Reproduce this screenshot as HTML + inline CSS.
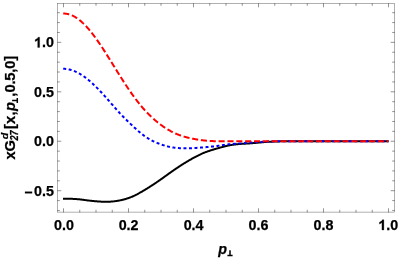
<!DOCTYPE html>
<html><head><meta charset="utf-8"><style>
html,body{margin:0;padding:0;background:#fff;}
body{width:398px;height:258px;overflow:hidden;}
svg{display:block;will-change:transform;font-family:"Liberation Sans",sans-serif;font-weight:bold;}
</style></head><body>
<svg width="398" height="258" viewBox="0 0 398 258">
<rect width="398" height="258" fill="#fff"/>
<g fill="none" stroke-linejoin="round">
<path d="M63.00 198.84 L63.50 198.84 L64.00 198.84 L64.50 198.84 L65.00 198.83 L65.50 198.83 L66.00 198.83 L66.50 198.82 L67.00 198.82 L67.50 198.82 L68.00 198.82 L68.50 198.81 L69.00 198.81 L69.50 198.81 L70.00 198.82 L70.50 198.82 L71.00 198.83 L71.50 198.84 L72.00 198.85 L72.50 198.86 L73.00 198.88 L73.50 198.90 L74.00 198.93 L74.50 198.95 L75.00 198.98 L75.50 199.01 L76.00 199.05 L76.50 199.09 L77.00 199.13 L77.50 199.17 L78.00 199.21 L78.50 199.26 L79.00 199.31 L79.50 199.36 L80.00 199.42 L80.50 199.48 L81.00 199.54 L81.50 199.60 L82.00 199.66 L82.50 199.73 L83.00 199.79 L83.50 199.86 L84.00 199.93 L84.50 199.99 L85.00 200.06 L85.50 200.13 L86.00 200.19 L86.50 200.26 L87.00 200.32 L87.50 200.39 L88.00 200.45 L88.50 200.51 L89.00 200.57 L89.50 200.63 L90.00 200.68 L90.50 200.74 L91.00 200.79 L91.50 200.84 L92.00 200.89 L92.50 200.94 L93.00 200.99 L93.50 201.04 L94.00 201.08 L94.50 201.13 L95.00 201.17 L95.50 201.22 L96.00 201.26 L96.50 201.30 L97.00 201.35 L97.50 201.39 L98.00 201.43 L98.50 201.47 L99.00 201.51 L99.50 201.54 L100.00 201.58 L100.50 201.61 L101.00 201.64 L101.50 201.67 L102.00 201.70 L102.50 201.72 L103.00 201.75 L103.50 201.76 L104.00 201.78 L104.50 201.79 L105.00 201.80 L105.50 201.81 L106.00 201.81 L106.50 201.81 L107.00 201.80 L107.50 201.79 L108.00 201.78 L108.50 201.76 L109.00 201.74 L109.50 201.72 L110.00 201.69 L110.50 201.65 L111.00 201.62 L111.50 201.58 L112.00 201.54 L112.50 201.49 L113.00 201.44 L113.50 201.38 L114.00 201.33 L114.50 201.26 L115.00 201.20 L115.50 201.13 L116.00 201.06 L116.50 200.99 L117.00 200.91 L117.50 200.83 L118.00 200.74 L118.50 200.65 L119.00 200.56 L119.50 200.46 L120.00 200.37 L120.50 200.26 L121.00 200.16 L121.50 200.05 L122.00 199.94 L122.50 199.82 L123.00 199.70 L123.50 199.57 L124.00 199.44 L124.50 199.31 L125.00 199.17 L125.50 199.03 L126.00 198.88 L126.50 198.73 L127.00 198.57 L127.50 198.41 L128.00 198.24 L128.50 198.07 L129.00 197.90 L129.50 197.71 L130.00 197.52 L130.50 197.33 L131.00 197.13 L131.50 196.92 L132.00 196.71 L132.50 196.50 L133.00 196.27 L133.50 196.05 L134.00 195.82 L134.50 195.58 L135.00 195.34 L135.50 195.09 L136.00 194.84 L136.50 194.58 L137.00 194.33 L137.50 194.06 L138.00 193.80 L138.50 193.53 L139.00 193.25 L139.50 192.98 L140.00 192.70 L140.50 192.41 L141.00 192.13 L141.50 191.84 L142.00 191.55 L142.50 191.26 L143.00 190.96 L143.50 190.67 L144.00 190.37 L144.50 190.07 L145.00 189.77 L145.50 189.47 L146.00 189.16 L146.50 188.86 L147.00 188.55 L147.50 188.24 L148.00 187.93 L148.50 187.61 L149.00 187.30 L149.50 186.98 L150.00 186.67 L150.50 186.35 L151.00 186.03 L151.50 185.71 L152.00 185.38 L152.50 185.06 L153.00 184.73 L153.50 184.40 L154.00 184.07 L154.50 183.74 L155.00 183.41 L155.50 183.07 L156.00 182.73 L156.50 182.40 L157.00 182.05 L157.50 181.71 L158.00 181.37 L158.50 181.02 L159.00 180.68 L159.50 180.33 L160.00 179.98 L160.50 179.63 L161.00 179.28 L161.50 178.92 L162.00 178.57 L162.50 178.21 L163.00 177.85 L163.50 177.49 L164.00 177.13 L164.50 176.77 L165.00 176.41 L165.50 176.05 L166.00 175.69 L166.50 175.33 L167.00 174.97 L167.50 174.61 L168.00 174.25 L168.50 173.89 L169.00 173.53 L169.50 173.18 L170.00 172.82 L170.50 172.46 L171.00 172.11 L171.50 171.76 L172.00 171.41 L172.50 171.06 L173.00 170.71 L173.50 170.36 L174.00 170.01 L174.50 169.67 L175.00 169.33 L175.50 168.98 L176.00 168.64 L176.50 168.31 L177.00 167.97 L177.50 167.64 L178.00 167.30 L178.50 166.97 L179.00 166.64 L179.50 166.32 L180.00 165.99 L180.50 165.67 L181.00 165.35 L181.50 165.03 L182.00 164.71 L182.50 164.39 L183.00 164.08 L183.50 163.77 L184.00 163.46 L184.50 163.15 L185.00 162.85 L185.50 162.54 L186.00 162.24 L186.50 161.94 L187.00 161.64 L187.50 161.34 L188.00 161.05 L188.50 160.75 L189.00 160.46 L189.50 160.17 L190.00 159.88 L190.50 159.59 L191.00 159.31 L191.50 159.02 L192.00 158.74 L192.50 158.46 L193.00 158.18 L193.50 157.90 L194.00 157.63 L194.50 157.36 L195.00 157.09 L195.50 156.82 L196.00 156.56 L196.50 156.29 L197.00 156.04 L197.50 155.78 L198.00 155.53 L198.50 155.28 L199.00 155.03 L199.50 154.79 L200.00 154.55 L200.50 154.32 L201.00 154.08 L201.50 153.86 L202.00 153.63 L202.50 153.41 L203.00 153.20 L203.50 152.99 L204.00 152.78 L204.50 152.58 L205.00 152.38 L205.50 152.19 L206.00 152.00 L206.50 151.81 L207.00 151.63 L207.50 151.45 L208.00 151.27 L208.50 151.10 L209.00 150.93 L209.50 150.77 L210.00 150.60 L210.50 150.44 L211.00 150.28 L211.50 150.13 L212.00 149.97 L212.50 149.82 L213.00 149.67 L213.50 149.52 L214.00 149.37 L214.50 149.22 L215.00 149.08 L215.50 148.93 L216.00 148.79 L216.50 148.65 L217.00 148.50 L217.50 148.36 L218.00 148.22 L218.50 148.08 L219.00 147.94 L219.50 147.79 L220.00 147.65 L220.50 147.51 L221.00 147.37 L221.50 147.23 L222.00 147.10 L222.50 146.96 L223.00 146.83 L223.50 146.69 L224.00 146.56 L224.50 146.43 L225.00 146.31 L225.50 146.18 L226.00 146.06 L226.50 145.94 L227.00 145.83 L227.50 145.72 L228.00 145.61 L228.50 145.50 L229.00 145.40 L229.50 145.30 L230.00 145.21 L230.50 145.12 L231.00 145.03 L231.50 144.95 L232.00 144.87 L232.50 144.79 L233.00 144.72 L233.50 144.65 L234.00 144.58 L234.50 144.52 L235.00 144.46 L235.50 144.40 L236.00 144.34 L236.50 144.29 L237.00 144.24 L237.50 144.19 L238.00 144.15 L238.50 144.10 L239.00 144.06 L239.50 144.02 L240.00 143.98 L240.50 143.94 L241.00 143.91 L241.50 143.87 L242.00 143.84 L242.50 143.81 L243.00 143.78 L243.50 143.75 L244.00 143.72 L244.50 143.69 L245.00 143.66 L245.50 143.63 L246.00 143.60 L246.50 143.57 L247.00 143.54 L247.50 143.51 L248.00 143.48 L248.50 143.45 L249.00 143.42 L249.50 143.39 L250.00 143.35 L250.50 143.31 L251.00 143.28 L251.50 143.24 L252.00 143.20 L252.50 143.15 L253.00 143.11 L253.50 143.07 L254.00 143.02 L254.50 142.98 L255.00 142.93 L255.50 142.89 L256.00 142.84 L256.50 142.80 L257.00 142.75 L257.50 142.70 L258.00 142.65 L258.50 142.61 L259.00 142.56 L259.50 142.51 L260.00 142.47 L260.50 142.42 L261.00 142.38 L261.50 142.33 L262.00 142.29 L262.50 142.24 L263.00 142.20 L263.50 142.16 L264.00 142.12 L264.50 142.08 L265.00 142.04 L265.50 142.01 L266.00 141.97 L266.50 141.94 L267.00 141.90 L267.50 141.87 L268.00 141.84 L268.50 141.81 L269.00 141.78 L269.50 141.75 L270.00 141.73 L270.50 141.70 L271.00 141.68 L271.50 141.65 L272.00 141.63 L272.50 141.61 L273.00 141.59 L273.50 141.57 L274.00 141.55 L274.50 141.53 L275.00 141.51 L275.50 141.49 L276.00 141.48 L276.50 141.46 L277.00 141.45 L277.50 141.43 L278.00 141.42 L278.50 141.40 L279.00 141.39 L279.50 141.38 L280.00 141.37 L280.50 141.36 L281.00 141.35 L281.50 141.34 L282.00 141.33 L282.50 141.32 L283.00 141.32 L283.50 141.31 L284.00 141.30 L284.50 141.30 L285.00 141.29 L285.50 141.28 L286.00 141.28 L286.50 141.28 L287.00 141.27 L287.50 141.27 L288.00 141.26 L288.50 141.26 L289.00 141.26 L289.50 141.26 L290.00 141.25 L290.50 141.25 L291.00 141.25 L291.50 141.25 L292.00 141.25 L292.50 141.25 L293.00 141.25 L293.50 141.25 L294.00 141.25 L294.50 141.25 L295.00 141.25 L295.50 141.25 L296.00 141.25 L296.50 141.25 L297.00 141.25 L297.50 141.25 L298.00 141.25 L298.50 141.25 L299.00 141.25 L299.50 141.25 L300.00 141.25 L300.50 141.25 L301.00 141.25 L301.50 141.25 L302.00 141.25 L302.50 141.25 L303.00 141.25 L303.50 141.25 L304.00 141.25 L304.50 141.25 L305.00 141.25 L305.50 141.25 L306.00 141.25 L306.50 141.25 L307.00 141.25 L307.50 141.25 L308.00 141.25 L308.50 141.26 L309.00 141.26 L309.50 141.26 L310.00 141.26 L310.50 141.26 L311.00 141.26 L311.50 141.26 L312.00 141.26 L312.50 141.26 L313.00 141.26 L313.50 141.26 L314.00 141.26 L314.50 141.26 L315.00 141.26 L315.50 141.25 L316.00 141.25 L316.50 141.25 L317.00 141.25 L317.50 141.25 L318.00 141.25 L318.50 141.25 L319.00 141.25 L319.50 141.25 L320.00 141.25 L320.50 141.25 L321.00 141.25 L321.50 141.25 L322.00 141.25 L322.50 141.25 L323.00 141.25 L323.50 141.25 L324.00 141.25 L324.50 141.25 L325.00 141.25 L325.50 141.25 L326.00 141.25 L326.50 141.25 L327.00 141.25 L327.50 141.25 L328.00 141.25 L328.50 141.25 L329.00 141.25 L329.50 141.25 L330.00 141.25 L330.50 141.25 L331.00 141.25 L331.50 141.25 L332.00 141.25 L332.50 141.25 L333.00 141.25 L333.50 141.25 L334.00 141.25 L334.50 141.25 L335.00 141.25 L335.50 141.25 L336.00 141.25 L336.50 141.25 L337.00 141.25 L337.50 141.25 L338.00 141.25 L338.50 141.25 L339.00 141.25 L339.50 141.25 L340.00 141.25 L340.50 141.25 L341.00 141.25 L341.50 141.25 L342.00 141.25 L342.50 141.25 L343.00 141.25 L343.50 141.25 L344.00 141.25 L344.50 141.25 L345.00 141.25 L345.50 141.25 L346.00 141.25 L346.50 141.25 L347.00 141.25 L347.50 141.25 L348.00 141.25 L348.50 141.25 L349.00 141.25 L349.50 141.25 L350.00 141.25 L350.50 141.25 L351.00 141.25 L351.50 141.25 L352.00 141.25 L352.50 141.25 L353.00 141.25 L353.50 141.25 L354.00 141.25 L354.50 141.25 L355.00 141.25 L355.50 141.25 L356.00 141.25 L356.50 141.25 L357.00 141.25 L357.50 141.25 L358.00 141.25 L358.50 141.25 L359.00 141.25 L359.50 141.25 L360.00 141.25 L360.50 141.25 L361.00 141.25 L361.50 141.25 L362.00 141.25 L362.50 141.25 L363.00 141.25 L363.50 141.25 L364.00 141.25 L364.50 141.25 L365.00 141.25 L365.50 141.25 L366.00 141.25 L366.50 141.25 L367.00 141.25 L367.50 141.25 L368.00 141.25 L368.50 141.25 L369.00 141.25 L369.50 141.25 L370.00 141.25 L370.50 141.25 L371.00 141.25 L371.50 141.25 L372.00 141.25 L372.50 141.25 L373.00 141.25 L373.50 141.25 L374.00 141.25 L374.50 141.25 L375.00 141.25 L375.50 141.25 L376.00 141.25 L376.50 141.25 L377.00 141.25 L377.50 141.25 L378.00 141.25 L378.50 141.25 L379.00 141.25 L379.50 141.25 L380.00 141.25 L380.50 141.25 L381.00 141.25 L381.50 141.25 L382.00 141.25 L382.50 141.25 L383.00 141.25 L383.50 141.25 L384.00 141.25 L384.50 141.25 L385.00 141.25 L385.50 141.25 L386.00 141.25 L386.50 141.25 L387.00 141.25 L387.50 141.25 L388.00 141.25 L388.50 141.25" stroke="#000" stroke-width="2.0"/>
<path d="M63.20 68.79 L63.50 68.79 L64.00 68.80 L64.50 68.81 L65.00 68.84 L65.50 68.88 L66.00 68.93 L66.50 68.98 L67.00 69.05 L67.50 69.13 L68.00 69.22 L68.50 69.32 L69.00 69.42 L69.50 69.54 L70.00 69.67 L70.50 69.80 L71.00 69.95 L71.50 70.10 L72.00 70.26 L72.50 70.43 L73.00 70.61 L73.50 70.79 L74.00 70.99 L74.50 71.19 L75.00 71.40 L75.50 71.62 L76.00 71.85 L76.50 72.08 L77.00 72.33 L77.50 72.58 L78.00 72.84 L78.50 73.10 L79.00 73.38 L79.50 73.66 L80.00 73.95 L80.50 74.25 L81.00 74.55 L81.50 74.87 L82.00 75.19 L82.50 75.52 L83.00 75.85 L83.50 76.20 L84.00 76.55 L84.50 76.90 L85.00 77.27 L85.50 77.64 L86.00 78.02 L86.50 78.40 L87.00 78.80 L87.50 79.19 L88.00 79.60 L88.50 80.01 L89.00 80.43 L89.50 80.85 L90.00 81.29 L90.50 81.72 L91.00 82.16 L91.50 82.61 L92.00 83.07 L92.50 83.52 L93.00 83.99 L93.50 84.46 L94.00 84.93 L94.50 85.41 L95.00 85.89 L95.50 86.38 L96.00 86.87 L96.50 87.37 L97.00 87.87 L97.50 88.37 L98.00 88.88 L98.50 89.39 L99.00 89.90 L99.50 90.42 L100.00 90.94 L100.50 91.47 L101.00 92.00 L101.50 92.53 L102.00 93.07 L102.50 93.61 L103.00 94.15 L103.50 94.70 L104.00 95.25 L104.50 95.80 L105.00 96.36 L105.50 96.92 L106.00 97.48 L106.50 98.04 L107.00 98.61 L107.50 99.18 L108.00 99.75 L108.50 100.33 L109.00 100.90 L109.50 101.48 L110.00 102.06 L110.50 102.63 L111.00 103.21 L111.50 103.79 L112.00 104.37 L112.50 104.95 L113.00 105.52 L113.50 106.10 L114.00 106.67 L114.50 107.25 L115.00 107.82 L115.50 108.39 L116.00 108.95 L116.50 109.52 L117.00 110.08 L117.50 110.63 L118.00 111.19 L118.50 111.73 L119.00 112.28 L119.50 112.82 L120.00 113.36 L120.50 113.89 L121.00 114.42 L121.50 114.94 L122.00 115.46 L122.50 115.98 L123.00 116.49 L123.50 117.00 L124.00 117.51 L124.50 118.01 L125.00 118.51 L125.50 119.01 L126.00 119.51 L126.50 120.00 L127.00 120.49 L127.50 120.98 L128.00 121.47 L128.50 121.95 L129.00 122.43 L129.50 122.91 L130.00 123.39 L130.50 123.87 L131.00 124.35 L131.50 124.83 L132.00 125.30 L132.50 125.77 L133.00 126.25 L133.50 126.72 L134.00 127.18 L134.50 127.65 L135.00 128.11 L135.50 128.57 L136.00 129.02 L136.50 129.48 L137.00 129.92 L137.50 130.37 L138.00 130.81 L138.50 131.24 L139.00 131.67 L139.50 132.10 L140.00 132.52 L140.50 132.93 L141.00 133.34 L141.50 133.74 L142.00 134.14 L142.50 134.53 L143.00 134.91 L143.50 135.28 L144.00 135.65 L144.50 136.01 L145.00 136.36 L145.50 136.71 L146.00 137.04 L146.50 137.37 L147.00 137.70 L147.50 138.01 L148.00 138.32 L148.50 138.63 L149.00 138.92 L149.50 139.21 L150.00 139.50 L150.50 139.77 L151.00 140.05 L151.50 140.31 L152.00 140.57 L152.50 140.83 L153.00 141.08 L153.50 141.32 L154.00 141.56 L154.50 141.79 L155.00 142.02 L155.50 142.24 L156.00 142.46 L156.50 142.68 L157.00 142.89 L157.50 143.09 L158.00 143.29 L158.50 143.49 L159.00 143.68 L159.50 143.87 L160.00 144.06 L160.50 144.24 L161.00 144.42 L161.50 144.60 L162.00 144.77 L162.50 144.94 L163.00 145.10 L163.50 145.26 L164.00 145.42 L164.50 145.57 L165.00 145.72 L165.50 145.86 L166.00 146.00 L166.50 146.14 L167.00 146.27 L167.50 146.39 L168.00 146.52 L168.50 146.63 L169.00 146.75 L169.50 146.86 L170.00 146.96 L170.50 147.06 L171.00 147.15 L171.50 147.24 L172.00 147.33 L172.50 147.41 L173.00 147.49 L173.50 147.56 L174.00 147.63 L174.50 147.69 L175.00 147.75 L175.50 147.81 L176.00 147.86 L176.50 147.91 L177.00 147.96 L177.50 148.00 L178.00 148.04 L178.50 148.08 L179.00 148.11 L179.50 148.14 L180.00 148.17 L180.50 148.20 L181.00 148.22 L181.50 148.24 L182.00 148.26 L182.50 148.27 L183.00 148.29 L183.50 148.30 L184.00 148.30 L184.50 148.31 L185.00 148.31 L185.50 148.32 L186.00 148.32 L186.50 148.31 L187.00 148.31 L187.50 148.30 L188.00 148.29 L188.50 148.28 L189.00 148.27 L189.50 148.26 L190.00 148.24 L190.50 148.22 L191.00 148.20 L191.50 148.18 L192.00 148.16 L192.50 148.14 L193.00 148.11 L193.50 148.08 L194.00 148.06 L194.50 148.03 L195.00 148.00 L195.50 147.96 L196.00 147.93 L196.50 147.90 L197.00 147.86 L197.50 147.83 L198.00 147.79 L198.50 147.75 L199.00 147.71 L199.50 147.68 L200.00 147.64 L200.50 147.60 L201.00 147.55 L201.50 147.51 L202.00 147.47 L202.50 147.43 L203.00 147.39 L203.50 147.34 L204.00 147.30 L204.50 147.26 L205.00 147.21 L205.50 147.17 L206.00 147.13 L206.50 147.08 L207.00 147.04 L207.50 146.99 L208.00 146.94 L208.50 146.90 L209.00 146.85 L209.50 146.80 L210.00 146.75 L210.50 146.70 L211.00 146.65 L211.50 146.60 L212.00 146.55 L212.50 146.50 L213.00 146.44 L213.50 146.39 L214.00 146.33 L214.50 146.27 L215.00 146.21 L215.50 146.15 L216.00 146.09 L216.50 146.03 L217.00 145.96 L217.50 145.90 L218.00 145.83 L218.50 145.76 L219.00 145.69 L219.50 145.62 L220.00 145.54 L220.50 145.47 L221.00 145.40 L221.50 145.32 L222.00 145.25 L222.50 145.17 L223.00 145.10 L223.50 145.02 L224.00 144.95 L224.50 144.88 L225.00 144.80 L225.50 144.73 L226.00 144.66 L226.50 144.60 L227.00 144.53 L227.50 144.47 L228.00 144.41 L228.50 144.35 L229.00 144.29 L229.50 144.24 L230.00 144.19 L230.50 144.14 L231.00 144.09 L231.50 144.05 L232.00 144.01 L232.50 143.97 L233.00 143.93 L233.50 143.89 L234.00 143.85 L234.50 143.82 L235.00 143.79 L235.50 143.75 L236.00 143.72 L236.50 143.69 L237.00 143.65 L237.50 143.62 L238.00 143.59 L238.50 143.56 L239.00 143.52 L239.50 143.49 L240.00 143.45 L240.50 143.41 L241.00 143.37 L241.50 143.34 L242.00 143.29 L242.50 143.25 L243.00 143.21 L243.50 143.17 L244.00 143.13 L244.50 143.08 L245.00 143.04 L245.50 143.00 L246.00 142.95 L246.50 142.91 L247.00 142.86 L247.50 142.82 L248.00 142.78 L248.50 142.73 L249.00 142.69 L249.50 142.65 L250.00 142.61 L250.50 142.57 L251.00 142.53 L251.50 142.49 L252.00 142.45 L252.50 142.42 L253.00 142.38 L253.50 142.35 L254.00 142.31 L254.50 142.28 L255.00 142.25 L255.50 142.21 L256.00 142.18 L256.50 142.15 L257.00 142.12 L257.50 142.09 L258.00 142.06 L258.50 142.03 L259.00 142.01 L259.50 141.98 L260.00 141.95 L260.50 141.93 L261.00 141.90 L261.50 141.88 L262.00 141.85 L262.50 141.83 L263.00 141.81 L263.50 141.78 L264.00 141.76 L264.50 141.74 L265.00 141.72 L265.50 141.70 L266.00 141.68 L266.50 141.65 L267.00 141.64 L267.50 141.62 L268.00 141.60 L268.50 141.58 L269.00 141.56 L269.50 141.54 L270.00 141.53 L270.50 141.51 L271.00 141.49 L271.50 141.48 L272.00 141.46 L272.50 141.45 L273.00 141.44 L273.50 141.42 L274.00 141.41 L274.50 141.40 L275.00 141.38 L275.50 141.37 L276.00 141.36 L276.50 141.35 L277.00 141.34 L277.50 141.33 L278.00 141.32 L278.50 141.31 L279.00 141.31 L279.50 141.30 L280.00 141.29 L280.50 141.28 L281.00 141.28 L281.50 141.27 L282.00 141.27 L282.50 141.26 L283.00 141.26 L283.50 141.25 L284.00 141.25 L284.50 141.24 L285.00 141.24 L285.50 141.24 L286.00 141.24 L286.50 141.23 L287.00 141.23 L287.50 141.23 L288.00 141.23 L288.50 141.23 L289.00 141.23 L289.50 141.23 L290.00 141.23 L290.50 141.23 L291.00 141.23 L291.50 141.23 L292.00 141.23 L292.50 141.23 L293.00 141.23 L293.50 141.23 L294.00 141.23 L294.50 141.23 L295.00 141.24 L295.50 141.24 L296.00 141.24 L296.50 141.24 L297.00 141.24 L297.50 141.24 L298.00 141.24 L298.50 141.25 L299.00 141.25 L299.50 141.25 L300.00 141.25 L300.50 141.25 L301.00 141.25 L301.50 141.25 L302.00 141.25 L302.50 141.26 L303.00 141.26 L303.50 141.26 L304.00 141.26 L304.50 141.26 L305.00 141.26 L305.50 141.26 L306.00 141.26 L306.50 141.26 L307.00 141.26 L307.50 141.26 L308.00 141.26 L308.50 141.26 L309.00 141.26 L309.50 141.26 L310.00 141.26 L310.50 141.26 L311.00 141.26 L311.50 141.26 L312.00 141.26 L312.50 141.26 L313.00 141.26 L313.50 141.26 L314.00 141.26 L314.50 141.26 L315.00 141.26 L315.50 141.26 L316.00 141.26 L316.50 141.26 L317.00 141.26 L317.50 141.26 L318.00 141.26 L318.50 141.26 L319.00 141.26 L319.50 141.26 L320.00 141.26 L320.50 141.26 L321.00 141.26 L321.50 141.26 L322.00 141.26 L322.50 141.26 L323.00 141.26 L323.50 141.26 L324.00 141.26 L324.50 141.25 L325.00 141.25 L325.50 141.25 L326.00 141.25 L326.50 141.25 L327.00 141.25 L327.50 141.25 L328.00 141.25 L328.50 141.25 L329.00 141.25 L329.50 141.25 L330.00 141.25 L330.50 141.25 L331.00 141.25 L331.50 141.25 L332.00 141.25 L332.50 141.25 L333.00 141.25 L333.50 141.25 L334.00 141.25 L334.50 141.25 L335.00 141.25 L335.50 141.25 L336.00 141.25 L336.50 141.25 L337.00 141.25 L337.50 141.25 L338.00 141.25 L338.50 141.25 L339.00 141.25 L339.50 141.25 L340.00 141.25 L340.50 141.25 L341.00 141.25 L341.50 141.25 L342.00 141.25 L342.50 141.25 L343.00 141.25 L343.50 141.25 L344.00 141.25 L344.50 141.25 L345.00 141.25 L345.50 141.25 L346.00 141.25 L346.50 141.25 L347.00 141.25 L347.50 141.25 L348.00 141.25 L348.50 141.25 L349.00 141.25 L349.50 141.25 L350.00 141.25 L350.50 141.25 L351.00 141.25 L351.50 141.25 L352.00 141.25 L352.50 141.25 L353.00 141.25 L353.50 141.25 L354.00 141.25 L354.50 141.25 L355.00 141.25 L355.50 141.25 L356.00 141.25 L356.50 141.25 L357.00 141.25 L357.50 141.25 L358.00 141.25 L358.50 141.25 L359.00 141.25 L359.50 141.25 L360.00 141.25 L360.50 141.25 L361.00 141.25 L361.50 141.25 L362.00 141.25 L362.50 141.25 L363.00 141.25 L363.50 141.25 L364.00 141.25 L364.50 141.25 L365.00 141.25 L365.50 141.25 L366.00 141.25 L366.50 141.25 L367.00 141.25 L367.50 141.25 L368.00 141.25 L368.50 141.25 L369.00 141.25 L369.50 141.25 L370.00 141.25 L370.50 141.25 L371.00 141.25 L371.50 141.25 L372.00 141.25 L372.50 141.25 L373.00 141.25 L373.50 141.25 L374.00 141.25 L374.50 141.25 L375.00 141.25 L375.50 141.25 L376.00 141.25 L376.50 141.25 L377.00 141.25 L377.50 141.25 L378.00 141.25 L378.50 141.25 L379.00 141.25 L379.50 141.25 L380.00 141.25 L380.50 141.25 L381.00 141.25 L381.50 141.25 L382.00 141.25 L382.50 141.25 L383.00 141.25 L383.50 141.25 L384.00 141.25 L384.50 141.25 L385.00 141.25 L385.50 141.25 L386.00 141.25 L386.50 141.25 L387.00 141.25 L387.50 141.25 L388.00 141.25 L388.50 141.25" stroke="#0000ff" stroke-width="2.0" stroke-dasharray="3 2.52" stroke-dashoffset="0"/>
<path d="M63.20 13.55 L63.50 13.55 L64.00 13.56 L64.50 13.58 L65.00 13.61 L65.50 13.65 L66.00 13.71 L66.50 13.79 L67.00 13.87 L67.50 13.97 L68.00 14.08 L68.50 14.20 L69.00 14.34 L69.50 14.49 L70.00 14.65 L70.50 14.82 L71.00 15.01 L71.50 15.21 L72.00 15.42 L72.50 15.64 L73.00 15.88 L73.50 16.13 L74.00 16.39 L74.50 16.67 L75.00 16.95 L75.50 17.25 L76.00 17.56 L76.50 17.89 L77.00 18.22 L77.50 18.57 L78.00 18.92 L78.50 19.29 L79.00 19.67 L79.50 20.07 L80.00 20.47 L80.50 20.88 L81.00 21.31 L81.50 21.75 L82.00 22.20 L82.50 22.65 L83.00 23.12 L83.50 23.60 L84.00 24.09 L84.50 24.59 L85.00 25.10 L85.50 25.62 L86.00 26.15 L86.50 26.69 L87.00 27.24 L87.50 27.79 L88.00 28.36 L88.50 28.94 L89.00 29.52 L89.50 30.11 L90.00 30.71 L90.50 31.32 L91.00 31.94 L91.50 32.57 L92.00 33.20 L92.50 33.84 L93.00 34.49 L93.50 35.15 L94.00 35.81 L94.50 36.49 L95.00 37.16 L95.50 37.85 L96.00 38.54 L96.50 39.24 L97.00 39.94 L97.50 40.65 L98.00 41.37 L98.50 42.09 L99.00 42.82 L99.50 43.55 L100.00 44.29 L100.50 45.03 L101.00 45.78 L101.50 46.53 L102.00 47.29 L102.50 48.05 L103.00 48.82 L103.50 49.59 L104.00 50.36 L104.50 51.13 L105.00 51.91 L105.50 52.70 L106.00 53.48 L106.50 54.27 L107.00 55.06 L107.50 55.85 L108.00 56.64 L108.50 57.44 L109.00 58.24 L109.50 59.04 L110.00 59.84 L110.50 60.64 L111.00 61.44 L111.50 62.25 L112.00 63.05 L112.50 63.86 L113.00 64.67 L113.50 65.47 L114.00 66.28 L114.50 67.09 L115.00 67.89 L115.50 68.70 L116.00 69.51 L116.50 70.31 L117.00 71.11 L117.50 71.92 L118.00 72.72 L118.50 73.52 L119.00 74.32 L119.50 75.12 L120.00 75.91 L120.50 76.71 L121.00 77.50 L121.50 78.29 L122.00 79.08 L122.50 79.86 L123.00 80.64 L123.50 81.42 L124.00 82.20 L124.50 82.97 L125.00 83.74 L125.50 84.50 L126.00 85.27 L126.50 86.02 L127.00 86.78 L127.50 87.53 L128.00 88.27 L128.50 89.01 L129.00 89.75 L129.50 90.48 L130.00 91.21 L130.50 91.93 L131.00 92.65 L131.50 93.36 L132.00 94.07 L132.50 94.77 L133.00 95.46 L133.50 96.15 L134.00 96.84 L134.50 97.52 L135.00 98.19 L135.50 98.86 L136.00 99.52 L136.50 100.17 L137.00 100.82 L137.50 101.47 L138.00 102.11 L138.50 102.74 L139.00 103.36 L139.50 103.99 L140.00 104.60 L140.50 105.21 L141.00 105.81 L141.50 106.41 L142.00 106.99 L142.50 107.58 L143.00 108.16 L143.50 108.73 L144.00 109.29 L144.50 109.85 L145.00 110.40 L145.50 110.94 L146.00 111.48 L146.50 112.02 L147.00 112.54 L147.50 113.06 L148.00 113.58 L148.50 114.08 L149.00 114.59 L149.50 115.08 L150.00 115.57 L150.50 116.06 L151.00 116.53 L151.50 117.01 L152.00 117.47 L152.50 117.93 L153.00 118.39 L153.50 118.84 L154.00 119.28 L154.50 119.72 L155.00 120.15 L155.50 120.58 L156.00 121.00 L156.50 121.42 L157.00 121.83 L157.50 122.24 L158.00 122.64 L158.50 123.03 L159.00 123.42 L159.50 123.81 L160.00 124.19 L160.50 124.57 L161.00 124.94 L161.50 125.30 L162.00 125.66 L162.50 126.02 L163.00 126.37 L163.50 126.71 L164.00 127.05 L164.50 127.39 L165.00 127.72 L165.50 128.04 L166.00 128.36 L166.50 128.68 L167.00 128.99 L167.50 129.29 L168.00 129.59 L168.50 129.89 L169.00 130.18 L169.50 130.46 L170.00 130.74 L170.50 131.01 L171.00 131.28 L171.50 131.55 L172.00 131.81 L172.50 132.06 L173.00 132.31 L173.50 132.56 L174.00 132.80 L174.50 133.03 L175.00 133.26 L175.50 133.49 L176.00 133.71 L176.50 133.93 L177.00 134.14 L177.50 134.34 L178.00 134.54 L178.50 134.74 L179.00 134.93 L179.50 135.12 L180.00 135.30 L180.50 135.48 L181.00 135.65 L181.50 135.82 L182.00 135.98 L182.50 136.14 L183.00 136.30 L183.50 136.45 L184.00 136.59 L184.50 136.74 L185.00 136.88 L185.50 137.02 L186.00 137.15 L186.50 137.28 L187.00 137.41 L187.50 137.53 L188.00 137.66 L188.50 137.78 L189.00 137.89 L189.50 138.01 L190.00 138.12 L190.50 138.23 L191.00 138.34 L191.50 138.45 L192.00 138.55 L192.50 138.65 L193.00 138.75 L193.50 138.85 L194.00 138.95 L194.50 139.04 L195.00 139.14 L195.50 139.23 L196.00 139.32 L196.50 139.40 L197.00 139.49 L197.50 139.57 L198.00 139.65 L198.50 139.73 L199.00 139.80 L199.50 139.88 L200.00 139.95 L200.50 140.02 L201.00 140.09 L201.50 140.15 L202.00 140.22 L202.50 140.28 L203.00 140.34 L203.50 140.39 L204.00 140.45 L204.50 140.50 L205.00 140.55 L205.50 140.60 L206.00 140.65 L206.50 140.69 L207.00 140.74 L207.50 140.78 L208.00 140.82 L208.50 140.85 L209.00 140.89 L209.50 140.92 L210.00 140.95 L210.50 140.98 L211.00 141.01 L211.50 141.04 L212.00 141.06 L212.50 141.09 L213.00 141.11 L213.50 141.13 L214.00 141.15 L214.50 141.17 L215.00 141.18 L215.50 141.20 L216.00 141.21 L216.50 141.22 L217.00 141.23 L217.50 141.24 L218.00 141.25 L218.50 141.26 L219.00 141.26 L219.50 141.27 L220.00 141.27 L220.50 141.27 L221.00 141.28 L221.50 141.28 L222.00 141.28 L222.50 141.28 L223.00 141.28 L223.50 141.28 L224.00 141.27 L224.50 141.27 L225.00 141.27 L225.50 141.27 L226.00 141.27 L226.50 141.26 L227.00 141.26 L227.50 141.26 L228.00 141.25 L228.50 141.25 L229.00 141.25 L229.50 141.25 L230.00 141.25 L230.50 141.25 L231.00 141.24 L231.50 141.24 L232.00 141.24 L232.50 141.24 L233.00 141.24 L233.50 141.24 L234.00 141.24 L234.50 141.24 L235.00 141.24 L235.50 141.24 L236.00 141.24 L236.50 141.25 L237.00 141.25 L237.50 141.25 L238.00 141.25 L238.50 141.25 L239.00 141.25 L239.50 141.25 L240.00 141.25 L240.50 141.25 L241.00 141.25 L241.50 141.25 L242.00 141.25 L242.50 141.25 L243.00 141.25 L243.50 141.25 L244.00 141.25 L244.50 141.25 L245.00 141.25 L245.50 141.25 L246.00 141.25 L246.50 141.25 L247.00 141.25 L247.50 141.25 L248.00 141.25 L248.50 141.25 L249.00 141.25 L249.50 141.25 L250.00 141.25 L250.50 141.25 L251.00 141.25 L251.50 141.25 L252.00 141.25 L252.50 141.25 L253.00 141.25 L253.50 141.25 L254.00 141.25 L254.50 141.25 L255.00 141.25 L255.50 141.25 L256.00 141.24 L256.50 141.24 L257.00 141.24 L257.50 141.24 L258.00 141.24 L258.50 141.24 L259.00 141.24 L259.50 141.24 L260.00 141.24 L260.50 141.24 L261.00 141.24 L261.50 141.24 L262.00 141.24 L262.50 141.24 L263.00 141.24 L263.50 141.24 L264.00 141.24 L264.50 141.24 L265.00 141.24 L265.50 141.24 L266.00 141.24 L266.50 141.24 L267.00 141.24 L267.50 141.24 L268.00 141.24 L268.50 141.24 L269.00 141.24 L269.50 141.24 L270.00 141.24 L270.50 141.24 L271.00 141.24 L271.50 141.24 L272.00 141.24 L272.50 141.24 L273.00 141.24 L273.50 141.24 L274.00 141.25 L274.50 141.25 L275.00 141.25 L275.50 141.25 L276.00 141.25 L276.50 141.25 L277.00 141.25 L277.50 141.25 L278.00 141.25 L278.50 141.25 L279.00 141.25 L279.50 141.25 L280.00 141.25 L280.50 141.25 L281.00 141.25 L281.50 141.25 L282.00 141.25 L282.50 141.25 L283.00 141.25 L283.50 141.25 L284.00 141.25 L284.50 141.25 L285.00 141.25 L285.50 141.25 L286.00 141.25 L286.50 141.25 L287.00 141.25 L287.50 141.25 L288.00 141.25 L288.50 141.25 L289.00 141.25 L289.50 141.25 L290.00 141.25 L290.50 141.25 L291.00 141.25 L291.50 141.25 L292.00 141.25 L292.50 141.25 L293.00 141.25 L293.50 141.25 L294.00 141.25 L294.50 141.25 L295.00 141.25 L295.50 141.25 L296.00 141.25 L296.50 141.25 L297.00 141.25 L297.50 141.25 L298.00 141.25 L298.50 141.25 L299.00 141.25 L299.50 141.25 L300.00 141.25 L300.50 141.25 L301.00 141.25 L301.50 141.25 L302.00 141.25 L302.50 141.25 L303.00 141.25 L303.50 141.25 L304.00 141.25 L304.50 141.25 L305.00 141.25 L305.50 141.25 L306.00 141.25 L306.50 141.25 L307.00 141.25 L307.50 141.25 L308.00 141.25 L308.50 141.25 L309.00 141.25 L309.50 141.25 L310.00 141.25 L310.50 141.25 L311.00 141.25 L311.50 141.25 L312.00 141.25 L312.50 141.25 L313.00 141.25 L313.50 141.25 L314.00 141.25 L314.50 141.25 L315.00 141.25 L315.50 141.25 L316.00 141.25 L316.50 141.25 L317.00 141.25 L317.50 141.25 L318.00 141.25 L318.50 141.25 L319.00 141.25 L319.50 141.25 L320.00 141.25 L320.50 141.25 L321.00 141.25 L321.50 141.25 L322.00 141.25 L322.50 141.25 L323.00 141.25 L323.50 141.25 L324.00 141.25 L324.50 141.25 L325.00 141.25 L325.50 141.25 L326.00 141.25 L326.50 141.25 L327.00 141.25 L327.50 141.25 L328.00 141.25 L328.50 141.25 L329.00 141.25 L329.50 141.25 L330.00 141.25 L330.50 141.25 L331.00 141.25 L331.50 141.25 L332.00 141.25 L332.50 141.25 L333.00 141.25 L333.50 141.25 L334.00 141.25 L334.50 141.25 L335.00 141.25 L335.50 141.25 L336.00 141.25 L336.50 141.25 L337.00 141.25 L337.50 141.25 L338.00 141.25 L338.50 141.25 L339.00 141.25 L339.50 141.25 L340.00 141.25 L340.50 141.25 L341.00 141.25 L341.50 141.25 L342.00 141.25 L342.50 141.25 L343.00 141.25 L343.50 141.25 L344.00 141.25 L344.50 141.25 L345.00 141.25 L345.50 141.25 L346.00 141.25 L346.50 141.25 L347.00 141.25 L347.50 141.25 L348.00 141.25 L348.50 141.25 L349.00 141.25 L349.50 141.25 L350.00 141.25 L350.50 141.25 L351.00 141.25 L351.50 141.25 L352.00 141.25 L352.50 141.25 L353.00 141.25 L353.50 141.25 L354.00 141.25 L354.50 141.25 L355.00 141.25 L355.50 141.25 L356.00 141.25 L356.50 141.25 L357.00 141.25 L357.50 141.25 L358.00 141.25 L358.50 141.25 L359.00 141.25 L359.50 141.25 L360.00 141.25 L360.50 141.25 L361.00 141.25 L361.50 141.25 L362.00 141.25 L362.50 141.25 L363.00 141.25 L363.50 141.25 L364.00 141.25 L364.50 141.25 L365.00 141.25 L365.50 141.25 L366.00 141.25 L366.50 141.25 L367.00 141.25 L367.50 141.25 L368.00 141.25 L368.50 141.25 L369.00 141.25 L369.50 141.25 L370.00 141.25 L370.50 141.25 L371.00 141.25 L371.50 141.25 L372.00 141.25 L372.50 141.25 L373.00 141.25 L373.50 141.25 L374.00 141.25 L374.50 141.25 L375.00 141.25 L375.50 141.25 L376.00 141.25 L376.50 141.25 L377.00 141.25 L377.50 141.25 L378.00 141.25 L378.50 141.25 L379.00 141.25 L379.50 141.25 L380.00 141.25 L380.50 141.25 L381.00 141.25 L381.50 141.25 L382.00 141.25 L382.50 141.25 L383.00 141.25 L383.50 141.25 L384.00 141.25 L384.50 141.25 L385.00 141.25 L385.50 141.25 L386.00 141.25 L386.50 141.25 L387.00 141.25 L387.50 141.25 L388.00 141.25 L388.50 141.25" stroke="#ff0000" stroke-width="2.0" stroke-dasharray="6.1 2.75" stroke-dashoffset="0"/>
</g>
<g fill="none" stroke="#666" stroke-width="0.52">
<rect x="57.5" y="3.5" width="337.00" height="208.60"/>
<path d="M63.50 212.50 V208.30 M63.50 3.10 V7.30 M79.75 212.50 V209.80 M79.75 3.10 V5.80 M96.00 212.50 V209.80 M96.00 3.10 V5.80 M112.25 212.50 V209.80 M112.25 3.10 V5.80 M128.50 212.50 V208.30 M128.50 3.10 V7.30 M144.75 212.50 V209.80 M144.75 3.10 V5.80 M161.00 212.50 V209.80 M161.00 3.10 V5.80 M177.25 212.50 V209.80 M177.25 3.10 V5.80 M193.50 212.50 V208.30 M193.50 3.10 V7.30 M209.75 212.50 V209.80 M209.75 3.10 V5.80 M226.00 212.50 V209.80 M226.00 3.10 V5.80 M242.25 212.50 V209.80 M242.25 3.10 V5.80 M258.50 212.50 V208.30 M258.50 3.10 V7.30 M274.75 212.50 V209.80 M274.75 3.10 V5.80 M291.00 212.50 V209.80 M291.00 3.10 V5.80 M307.25 212.50 V209.80 M307.25 3.10 V5.80 M323.50 212.50 V208.30 M323.50 3.10 V7.30 M339.75 212.50 V209.80 M339.75 3.10 V5.80 M356.00 212.50 V209.80 M356.00 3.10 V5.80 M372.25 212.50 V209.80 M372.25 3.10 V5.80 M388.50 212.50 V208.30 M388.50 3.10 V7.30 M57.10 210.48 H59.80 M394.90 210.48 H392.20 M57.10 200.59 H59.80 M394.90 200.59 H392.20 M57.10 190.70 H61.30 M394.90 190.70 H390.70 M57.10 180.81 H59.80 M394.90 180.81 H392.20 M57.10 170.92 H59.80 M394.90 170.92 H392.20 M57.10 161.03 H59.80 M394.90 161.03 H392.20 M57.10 151.14 H59.80 M394.90 151.14 H392.20 M57.10 141.25 H61.30 M394.90 141.25 H390.70 M57.10 131.36 H59.80 M394.90 131.36 H392.20 M57.10 121.47 H59.80 M394.90 121.47 H392.20 M57.10 111.58 H59.80 M394.90 111.58 H392.20 M57.10 101.69 H59.80 M394.90 101.69 H392.20 M57.10 91.80 H61.30 M394.90 91.80 H390.70 M57.10 81.91 H59.80 M394.90 81.91 H392.20 M57.10 72.02 H59.80 M394.90 72.02 H392.20 M57.10 62.13 H59.80 M394.90 62.13 H392.20 M57.10 52.24 H59.80 M394.90 52.24 H392.20 M57.10 42.35 H61.30 M394.90 42.35 H390.70 M57.10 32.46 H59.80 M394.90 32.46 H392.20 M57.10 22.57 H59.80 M394.90 22.57 H392.20 M57.10 12.68 H59.80 M394.90 12.68 H392.20" stroke-width="0.7"/>
</g>
<g font-size="14.3" fill="#000" stroke="#000" stroke-width="0.25">
<path transform="translate(34.02,47.45) scale(0.00698,-0.00698)" stroke-width="35.8" d="M806 0H525V1059Q371 915 162 846V1101Q272 1137 401 1237.5Q530 1338 578 1472H806Z"/><text x="41.97" y="47.45">.0</text>
<text x="53.90" y="96.90" text-anchor="end">0.5</text>
<text x="53.90" y="146.35" text-anchor="end">0.0</text>
<text x="53.90" y="195.80" text-anchor="end">0.5</text>
<text x="63.90" y="230.00" text-anchor="middle">0.0</text>
<text x="128.60" y="230.00" text-anchor="middle">0.2</text>
<text x="193.60" y="230.00" text-anchor="middle">0.4</text>
<text x="258.50" y="230.00" text-anchor="middle">0.6</text>
<text x="323.50" y="230.00" text-anchor="middle">0.8</text>
<path transform="translate(378.26,230.00) scale(0.00698,-0.00698)" stroke-width="35.8" d="M806 0H525V1059Q371 915 162 846V1101Q272 1137 401 1237.5Q530 1338 578 1472H806Z"/><text x="386.21" y="230.00">.0</text>
<rect x="24.9" y="191.55" width="7.3" height="1.9" stroke="none"/>
</g>
<g font-size="14.7" fill="#000" stroke="#000" stroke-width="0.25" transform="translate(15.2,159.6) rotate(-90)">
<text x="0" y="0">xG</text>
<text transform="translate(19.0,2.7) scale(0.87,1)" font-size="10.4" font-style="italic">27</text>
<text transform="translate(20.3,-7.1) scale(1.12,1)" font-size="9.5" font-style="italic">d</text>
<text x="30.5" y="0">[</text><text x="35.5" y="0">x</text><text x="44.0" y="0">,</text>
<text x="48.6" y="0" font-style="italic">p</text>
<path d="M56.5 2.1 h5.2 m-2.6 0 v-5.2" stroke="#000" stroke-width="1.5" fill="none"/>
<text x="62.8" y="0">,</text><text x="67.1" y="0" letter-spacing="-0.2">0.5,0]</text>
</g>
<g font-size="14.3" fill="#000" stroke="#000" stroke-width="0.25">
<text x="218.3" y="254.4" font-style="italic">p</text>
<path d="M227.4 255.5 h5.2 m-2.6 0 v-5.2" stroke="#000" stroke-width="1.5" fill="none"/>
</g>
</svg>
</body></html>
